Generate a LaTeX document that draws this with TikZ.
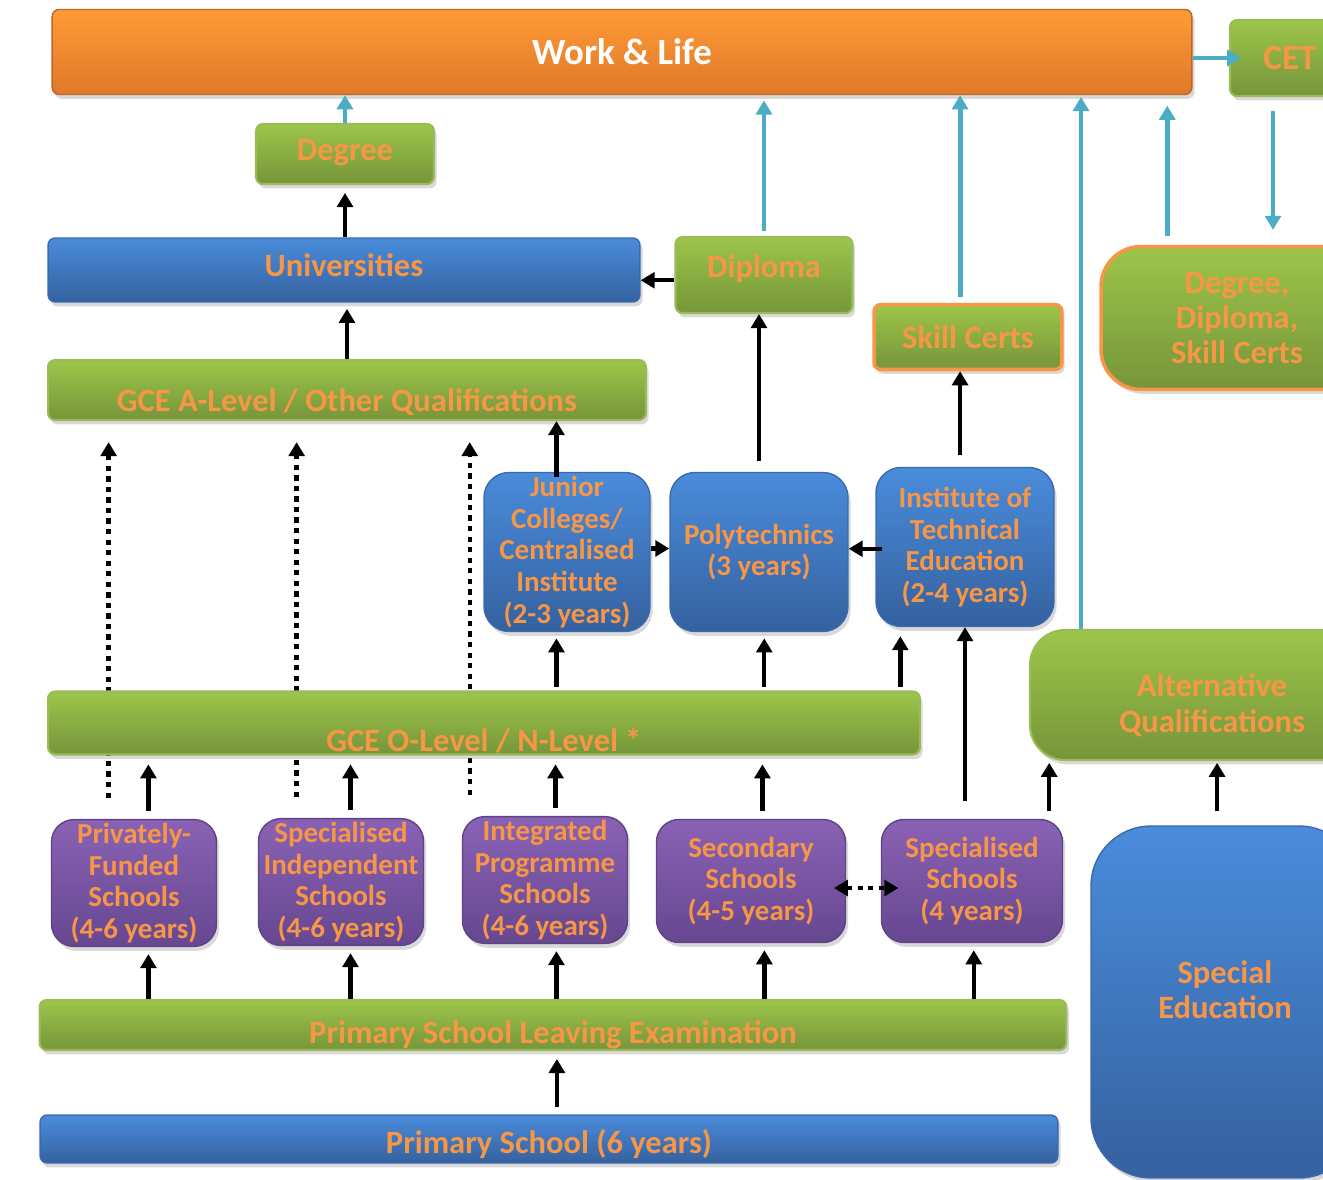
\documentclass[tikz,border=0pt]{standalone}
\usepackage{fontspec}
\setmainfont{Carlito}
\usepackage{tikz}
\usetikzlibrary{arrows.meta,shadows,calc}

\definecolor{txtorange}{HTML}{F79646}
\definecolor{grtop}{HTML}{9DC54A}
\definecolor{grbot}{HTML}{76953A}
\definecolor{grline}{HTML}{9BBB59}
\definecolor{bltop}{HTML}{4A8CDB}
\definecolor{blbot}{HTML}{35619F}
\definecolor{blline}{HTML}{3A6AAE}
\definecolor{putop}{HTML}{8A62B5}
\definecolor{pubot}{HTML}{664790}
\definecolor{puline}{HTML}{5E4385}
\definecolor{ortop}{HTML}{FF9B35}
\definecolor{orbot}{HTML}{E0782A}
\definecolor{orline}{HTML}{C0652A}
\definecolor{cetteal}{HTML}{4BACC6}

\newcommand{\shiftlabel}[2]{\smash{\raisebox{\dimexpr#1-6.5pt\relax}{#2}}}
\newcommand{\shiftlines}[2]{\smash{\raisebox{#1}{\begin{tabular}{@{}c@{}}#2\end{tabular}}}}

\pgfdeclarelayer{back}
\pgfsetlayers{back,main}

\begin{document}
\begin{tikzpicture}[x=0.02cm,y=-0.02cm,>={Triangle[length=8pt,width=9pt]}]
  \tikzstyle{box}=[rounded corners=4pt, align=center, inner sep=2pt,
                   font=\fontsize{18.5}{20}\selectfont\bfseries, text=txtorange,
                   drop shadow={opacity=0.3,shadow xshift=1.5pt,shadow yshift=-2.5pt}]
  \tikzstyle{smalltext}=[font=\fontsize{16.5}{18}\selectfont\bfseries]
  \tikzstyle{greenbox}=[box, top color=grtop, bottom color=grbot, draw=grline, line width=1.2pt]
  \tikzstyle{certbox}=[box, top color=grtop, bottom color=grbot, draw=txtorange, line width=2pt]
  \tikzstyle{bluebox}=[box, top color=bltop, bottom color=blbot, draw=blline, line width=0.8pt]
  \tikzstyle{schoolbox}=[box, smalltext, rounded corners=0.45cm, top color=putop, bottom color=pubot,
                         draw=puline, line width=0.8pt, minimum height=2.5cm]
  \tikzstyle{orangebox}=[box, top color=ortop, bottom color=orbot, draw=orline, line width=0.8pt]
  \tikzstyle{arr}=[->, line width=2.5pt, black]
  \tikzstyle{tealarr}=[->, line width=2.8pt, cetteal]
  \tikzstyle{dotarr}=[->, line width=2.5pt, dash pattern=on 3pt off 3pt]

  \clip (0,0) rectangle (1323,1180);

  % top row
  \node[orangebox, minimum width=22.8cm, minimum height=1.7cm, text=white,
        font=\fontsize{21}{24}\selectfont\bfseries] (work) at (622,52) {\shiftlabel{-0.5pt}{Work \& Life}};
  \node[greenbox, minimum width=2.4cm, minimum height=1.52cm,
        font=\fontsize{20}{22}\selectfont\bfseries] (cet) at (1290,58) {CET};
  \node[greenbox, minimum width=3.56cm, minimum height=1.2cm] (degree) at (345,154) {\shiftlabel{3pt}{Degree}};

  % tertiary
  \node[bluebox, minimum width=11.84cm, minimum height=1.28cm] (univ) at (344,270) {\shiftlabel{3pt}{Universities}};
  \node[greenbox, minimum width=3.54cm, minimum height=1.52cm] (diploma) at (764,275) {\shiftlabel{5pt}{Diploma}};
  \node[certbox, minimum width=3.76cm, minimum height=1.3cm] (skill) at (968,337) {Skill Certs};
  \node[certbox, rounded corners=0.8cm, minimum width=5.44cm, minimum height=2.86cm] (dds)
        at (1237,318) {Degree,\\Diploma,\\Skill Certs};
  \node[greenbox, minimum width=11.96cm, minimum height=1.2cm] (gcea) at (347,390)
        {\shiftlabel{-6pt}{GCE A-Level / Other Qualifications}};

  \node[bluebox, smalltext, rounded corners=0.5cm, minimum width=3.32cm, minimum height=3.18cm] (jc)
        at (567,552) {Junior\\Colleges/\\Centralised\\Institute\\(2-3 years)};
  \node[bluebox, smalltext, rounded corners=0.5cm, minimum width=3.56cm, minimum height=3.18cm] (poly)
        at (759,552) {Polytechnics\\(3 years)};
  \node[bluebox, smalltext, rounded corners=0.5cm, minimum width=3.56cm, minimum height=3.18cm] (ite)
        at (965,547) {Institute of\\Technical\\Education\\(2-4 years)};

  \node[greenbox, minimum width=17.44cm, minimum height=1.26cm] (gceo) at (484,723)
        {\shiftlabel{-10pt}{GCE O-Level / N-Level *}};
  \node[greenbox, rounded corners=0.7cm, minimum width=7.28cm, minimum height=2.6cm] (alt)
        at (1212,695) {\shiftlines{-11.4pt}{Alternative\\Qualifications}};

  % secondary
  \node[schoolbox, minimum width=3.3cm] (pfs) at (134,883) {Privately-\\Funded\\Schools\\(4-6 years)};
  \node[schoolbox, minimum width=3.3cm] (sis) at (341,882) {Specialised\\Independent\\Schools\\(4-6 years)};
  \node[schoolbox, minimum width=3.3cm] (ip) at (545,880) {Integrated\\Programme\\Schools\\(4-6 years)};
  \node[schoolbox, minimum width=3.78cm, minimum height=2.46cm] (sec) at (751,881)
        {Secondary\\Schools\\(4-5 years)};
  \node[schoolbox, minimum width=3.62cm, minimum height=2.46cm] (spec) at (972,881)
        {Specialised\\Schools\\(4 years)};
  \node[bluebox, rounded corners=1.2cm, minimum width=5.36cm, minimum height=7.04cm] (sped)
        at (1225,1002) {\shiftlines{0.4pt}{Special\\Education}};

  % primary
  \node[greenbox, minimum width=20.54cm, minimum height=1.0cm] (psle) at (553,1025)
        {\shiftlabel{-4pt}{Primary School Leaving Examination}};
  \node[bluebox, minimum width=20.36cm, minimum height=0.96cm] (prim) at (549,1139)
        {\shiftlabel{-2pt}{Primary School (6 years)}};

  % teal arrows to work & life
  \draw[tealarr] (degree.north) -- (degree.north |- work.south);
  \draw[tealarr, shorten <=3pt, shorten >=3pt] (diploma.north) -- (diploma.north |- work.south);
  \draw[tealarr, shorten <=3pt] ([xshift=-4.5pt]skill.north) -- ([xshift=-4.5pt]skill.north |- work.south);
  \coordinate (altup) at ($(alt.north west)+(52,0)$);
  \draw[tealarr, shorten >=1pt] (altup) -- (altup |- work.south);
  \coordinate (ddsup) at ($(dds.north west)+(68,0)$);
  \draw[tealarr, shorten <=5pt, shorten >=6pt] (ddsup) -- (ddsup |- work.south);
  \draw[tealarr, shorten >=-7pt] (cet.west -| work.east) -- (cet.west);
  \coordinate (cetdown) at ($(cet.south)+(-17,0)$);
  \draw[tealarr, shorten <=8pt, shorten >=8.5pt] (cetdown) -- (cetdown |- dds.north);

  % black arrows
  \draw[arr, shorten >=4.5pt] (univ.north -| degree.south) -- (degree.south);
  \draw[arr, shorten >=3.5pt] (gcea.north) -- (gcea.north |- univ.south);
  \draw[arr] ([yshift=-3pt]diploma.west) -- ([yshift=-3pt]diploma.west -| univ.east);
  \draw[arr, shorten <=6pt] (poly.north) -- (poly.north |- diploma.south);
  \draw[arr, shorten <=7pt] ([xshift=-4.5pt]skill.south |- ite.north) -- ([xshift=-4.5pt]skill.south);
  \draw[arr, shorten <=-3pt] ([xshift=-6pt]jc.north) -- ([xshift=-6pt]jc.north |- gcea.south);
  \draw[arr] ([yshift=2pt]jc.east) -- ([yshift=2pt]jc.east -| poly.west);
  \draw[arr, shorten <=-4pt] ([yshift=-1pt]ite.west) -- ([yshift=-1pt]ite.west -| poly.east);
  \draw[arr, shorten <=2pt, shorten >=3.5pt] ([xshift=-6pt]jc.south |- gceo.north) -- ([xshift=-6pt]jc.south);
  \draw[arr, shorten <=2pt, shorten >=3.5pt] ([xshift=3pt]poly.south |- gceo.north) -- ([xshift=3pt]poly.south);
  \coordinate (itegap) at ($(ite.south west)+(25,9)$);
  \draw[arr, shorten <=2pt] (itegap |- gceo.north) -- (itegap);
  \draw[arr, shorten <=10pt] (spec.north -| ite.south) -- (ite.south);
  \coordinate (specside) at ($(spec.north east)+(-14,0)$);
  \draw[arr, shorten <=4.5pt, shorten >=1pt] (specside) -- (specside |- alt.south);
  \draw[arr, shorten <=8pt, shorten >=1pt] ([xshift=-4.5pt]sped.north) -- ([xshift=-4.5pt]sped.north |- alt.south);
  \foreach \s/\dx in {pfs/8.2,sis/5.4,ip/6,sec/6.5}
    \draw[arr, shorten <=4.5pt, shorten >=5pt] ([xshift=\dx pt]\s.north) -- ([xshift=\dx pt]\s.north |- gceo.south);
  \foreach \s/\dx in {pfs/8.2,sis/5.4,ip/6.5,sec/7.6,spec/1}
    \draw[arr, shorten >=4pt] ([xshift=\dx pt]\s.south |- psle.north) -- ([xshift=\dx pt]\s.south);
  \draw[arr, shorten <=4pt, shorten >=4.5pt] ([xshift=4.5pt]prim.north) -- ([xshift=4.5pt]prim.north |- psle.south);
  \draw[dotarr, <->, shorten <=-7pt, shorten >=-10pt] ([yshift=-4pt]sec.east) -- ([yshift=-4pt]sec.east -| spec.west);

  % dotted paths behind the O-level bar
  \begin{pgfonlayer}{back}
    \foreach \s/\dx in {pfs/32.9,sis/22.1,ip/4.5}
      \draw[dotarr, shorten >=12pt] ([xshift=\dx pt, yshift=12pt]\s.north west) -- ([xshift=\dx pt]\s.north west |- gcea.south);
  \end{pgfonlayer}
\end{tikzpicture}
\end{document}
